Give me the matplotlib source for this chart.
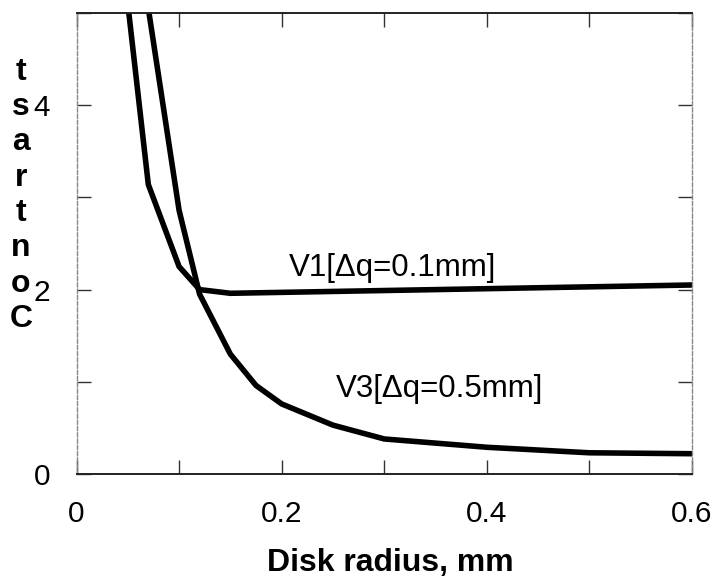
import matplotlib
matplotlib.use("Agg")
import matplotlib.pyplot as plt

# Data
x_v1 = [0.05, 0.07, 0.10, 0.12, 0.15, 0.20, 0.30, 0.40, 0.50, 0.60]
v1 = [5.10, 3.14, 2.25, 2.00, 1.96, 1.97, 1.99, 2.01, 2.03, 2.05]
x_v3 = [0.07, 0.10, 0.12, 0.15, 0.175, 0.20, 0.25, 0.30, 0.40, 0.50, 0.60]
v3 = [5.05, 2.86, 1.95, 1.30, 0.96, 0.76, 0.53, 0.38, 0.29, 0.23, 0.22]

x_ticks = [0, 0.1, 0.2, 0.3, 0.4, 0.5, 0.6]
x_labels = ["0", "", "0.2", "", "0.4", "", "0.6"]
y_ticks = [0, 1, 2, 3, 4, 5]
y_labels = ["0", "", "2", "", "4", ""]
label_v1 = "V1[Δq=0.1mm]"
label_v3 = "V3[Δq=0.5mm]"
x_title = "Disk radius, mm"
y_title = "Contrast"

FONT = ["Liberation Sans", "DejaVu Sans"]
plt.rcParams["font.family"] = FONT

W, H = 719, 577
fig = plt.figure(figsize=(W / 100, H / 100), dpi=100)
L, R, T, B = 76.5, 692, 13, 474
ax = fig.add_axes([L / W, 1 - B / H, (R - L) / W, (B - T) / H])

ax.plot(x_v1, v1, color="black", lw=4, solid_joinstyle="miter", clip_on=True)
ax.plot(x_v3, v3, color="black", lw=4, solid_joinstyle="miter", clip_on=True)

ax.set_xlim(0, 0.6)
ax.set_ylim(0, 5)
ax.set_xticks(x_ticks)
ax.set_xticklabels(x_labels)
ax.set_yticks(y_ticks)
ax.set_yticklabels(y_labels)
ax.tick_params(axis="both", direction="in", top=True, right=True,
               length=10, width=1, color="#333333", labelsize=21.5)
ax.tick_params(axis="x", pad=19)
ax.tick_params(axis="y", pad=19)

for side in ("top", "bottom"):
    ax.spines[side].set_color("#222222")
    ax.spines[side].set_linewidth(1.4)
for side in ("left", "right"):
    ax.spines[side].set_color("#888888")
    ax.spines[side].set_linewidth(1.0)
    ax.spines[side].set_linestyle((0, (3, 1.5)))

ax.text(0.513, 0.447, label_v1, transform=ax.transAxes, ha="center",
        va="center", fontsize=22.5)
ax.text(0.590, 0.184, label_v3, transform=ax.transAxes, ha="center",
        va="center", fontsize=22.5)

fig.text(390 / W, 1 - 563 / H, x_title, ha="center", va="center",
         fontsize=23, fontweight="bold")

# vertical stacked y-axis title, read bottom to top
for i, ch in enumerate(y_title):
    base = 327 - 35.3 * i
    fig.text(21 / W, 1 - base / H, ch, ha="center", va="baseline",
             fontsize=23, fontweight="bold")

fig.savefig("out.png", dpi=100)
